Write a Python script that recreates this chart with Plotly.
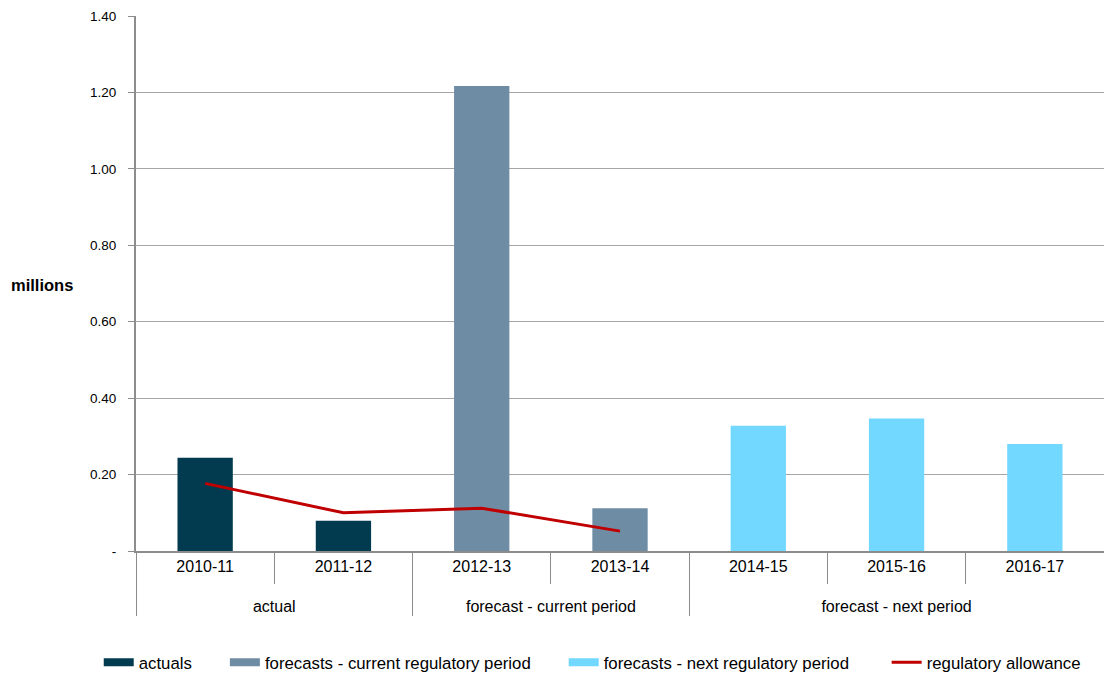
import plotly.graph_objects as go

groups = ["actual", "actual", "forecast - current period", "forecast - current period",
          "forecast - next period", "forecast - next period", "forecast - next period"]
years = ["2010-11", "2011-12", "2012-13", "2013-14", "2014-15", "2015-16", "2016-17"]

actuals = [0.244, 0.079]
current_fc = [1.217, 0.112]
next_fc = [0.328, 0.347, 0.280]
allowance = [0.177, 0.100, 0.112, 0.052]

ytickvals = [0, 0.2, 0.4, 0.6, 0.8, 1.0, 1.2, 1.4]
yticktext = ["-", "0.20", "0.40", "0.60", "0.80", "1.00", "1.20", "1.40"]

FONT = "Liberation Sans, Arial, sans-serif"
PAD = "\u00a0" * 6

# year labels get an empty second line so the group row sits lower
year_labels = [y + "<br> " for y in years]

c_act, c_cur, c_nxt, c_reg = "#023B4F", "#6F8CA5", "#72D8FF", "#C00000"
names = ["actuals", "forecasts - current regulatory period",
         "forecasts - next regulatory period", "regulatory allowance"]

fig = go.Figure()
fig.add_trace(go.Bar(x=[groups[0:2], year_labels[0:2]], y=actuals, name=names[0],
                     marker=dict(color=c_act, line=dict(width=0)), width=0.4,
                     showlegend=False, legendgroup="a"))
fig.add_trace(go.Bar(x=[groups[2:4], year_labels[2:4]], y=current_fc, name=names[1],
                     marker=dict(color=c_cur, line=dict(width=0)), width=0.4,
                     showlegend=False, legendgroup="b"))
fig.add_trace(go.Bar(x=[groups[4:7], year_labels[4:7]], y=next_fc, name=names[2],
                     marker=dict(color=c_nxt, line=dict(width=0)), width=0.4,
                     showlegend=False, legendgroup="c"))
fig.add_trace(go.Scatter(x=[groups[0:4], year_labels[0:4]], y=allowance, mode="lines",
                         name=names[3], line=dict(color=c_reg, width=3),
                         showlegend=False, legendgroup="d"))

# legend entries (rectangular swatches like the original)
pads = [PAD, PAD, PAD + "\u00a0", ""]
for (nm, col, w, g), pd in zip([(names[0], c_act, 8, "a"), (names[1], c_cur, 8, "b"),
                                (names[2], c_nxt, 8, "c"), (names[3], c_reg, 3, "d")], pads):
    fig.add_trace(go.Scatter(x=[[groups[0]], [year_labels[0]]], y=[None], mode="lines",
                             name=nm + pd,
                             line=dict(color=col, width=w), legendgroup=g,
                             hoverinfo="skip"))

fig.update_layout(
    width=1104, height=678,
    margin=dict(l=136, r=0, t=16, b=127, autoexpand=False),
    paper_bgcolor="white", plot_bgcolor="white",
    barmode="overlay",
    font=dict(family=FONT, size=14, color="#000"),
    showlegend=True,
    legend=dict(orientation="h", x=-0.0385, xanchor="left", y=-0.208, yanchor="middle",
                font=dict(size=16.8), traceorder="normal", itemwidth=30),
    annotations=[dict(text="<b>millions</b>", xref="paper", yref="paper",
                      x=-0.097, y=(551 - 285) / 535, xanchor="center", yanchor="middle",
                      showarrow=False, font=dict(size=16.5))],
)
fig.update_yaxes(range=[0, 1.4], tickvals=ytickvals, ticktext=yticktext,
                 showgrid=True, gridcolor="#A6A6A6", gridwidth=1,
                 showline=True, linecolor="#8C8C8C", linewidth=2,
                 ticks="outside", ticklen=6, tickcolor="#8C8C8C",
                 zeroline=False, tickfont=dict(size=13.5), ticklabelstandoff=9,
                 automargin=False)
fig.update_xaxes(type="multicategory", showline=True, linecolor="#8C8C8C", linewidth=2,
                 ticks="outside", tickson="boundaries", ticklen=31, tickcolor="#8C8C8C",
                 showdividers=True, dividercolor="#8C8C8C", dividerwidth=1,
                 tickfont=dict(size=16), ticklabelstandoff=0, automargin=False)

fig.write_html("out.html")
